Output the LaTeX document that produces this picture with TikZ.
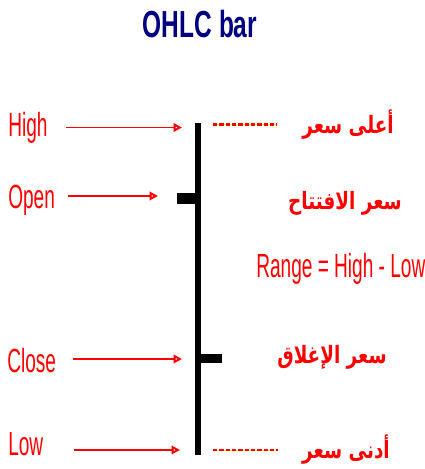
\documentclass[tikz,border=0pt]{standalone}
\usepackage{fontspec}
\usepackage{xcolor}
\usetikzlibrary{arrows.meta, positioning}
\TeXXeTstate=1
\newfontfamily\barfont[FakeStretch=0.57]{Liberation Sans}
\newfontfamily\titlefont[FakeStretch=0.65]{Liberation Sans}
\newfontfamily\arabicfont[Script=Arabic, FakeStretch=0.77]{DejaVu Sans}
\definecolor{titleblue}{RGB}{0,0,128}
\definecolor{labelred}{RGB}{255,0,0}

\begin{document}
\begin{tikzpicture}[
    x=0.025cm, y=-0.025cm,
    title/.style={anchor=base, inner sep=0pt, text=titleblue, font=\titlefont\bfseries\fontsize{26.8}{30}\selectfont},
    lbl/.style={anchor=base west, inner sep=0pt, text=labelred, font=\barfont\fontsize{23.8}{28}\selectfont},
    arlbl/.style={inner sep=0pt, text=labelred, font=\arabicfont\bfseries\fontsize{17}{20}\selectfont},
    pointer/.style={-{Triangle[open, length=6pt, width=6pt]}, labelred, line width=1.4pt},
    stem/.style={line width=3.8pt},
    dots/.style={labelred, line width=2pt, dash pattern=on 3pt off 1.5pt, preaction={draw=yellow, solid}}
]
\useasboundingbox[fill=white] (0,0) rectangle (424,469);

\node[title] (ttl) at (200,37) {OHLC bar};

\coordinate (top) at (198,123);
\coordinate (bottom) at (198,455);
\draw[stem] (top) -- (bottom);
\fill (177,193) rectangle (198,204);
\fill (198,354) rectangle (222,363);

\node[lbl] (high) at (8,136) {High};
\node[lbl] (open) at (8,208) {Open};
\node[lbl] (close) at (7,372) {Close};
\node[lbl] (low) at (8,455) {Low};

\coordinate (highto) at (182,127.5);
\coordinate (opento) at (158,196);
\coordinate (closeto) at (182,359);
\coordinate (lowto) at (180,450);

\draw[pointer, shorten <=12.8pt] (high.east |- highto) -- (highto);
\draw[pointer, shorten <=9.2pt] (open.east |- opento) -- (opento);
\draw[pointer, shorten <=12pt] (close.east |- closeto) -- (closeto);
\draw[pointer, shorten <=21.3pt] (low.east |- lowto) -- (lowto);

\node[arlbl] (highar) at (348,125) {\beginR أعلى سعر\endR};
\node[arlbl] (openar) at (345,203) {\beginR سعر الافتتاح\endR};
\node[arlbl] (closear) at (332,357) {\beginR سعر الإغلاق\endR};
\node[arlbl] (lowar) at (346,450) {\beginR أدنى سعر\endR};

\coordinate (highdot) at (213,124.5);
\coordinate (highdotend) at (277,124.5);
\coordinate (lowdot) at (213,450);
\coordinate (lowdotend) at (278,450);
\draw[dots] (highdot) -- (highdotend);
\draw[dots] (lowdot) -- (lowdotend);

\node[lbl] (range) at (256,277) {Range = High - Low};

\end{tikzpicture}
\end{document}
